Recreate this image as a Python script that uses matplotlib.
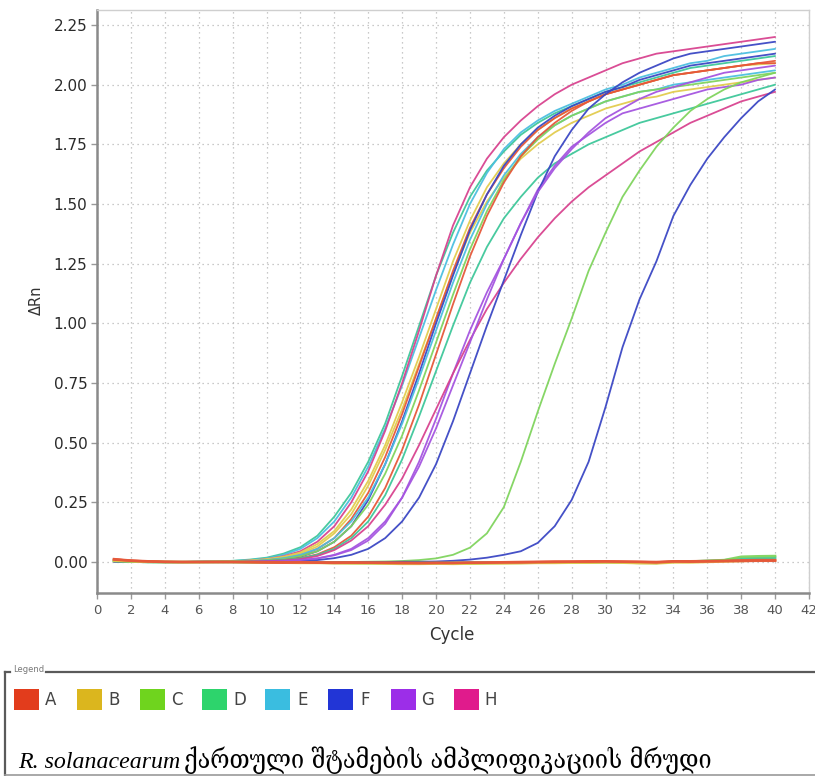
import matplotlib
matplotlib.use('Agg')
import matplotlib.pyplot as plt
from matplotlib.patches import Rectangle
from matplotlib.lines import Line2D

# ---------------- data ----------------
cycles = list(range(1, 41))
sample_labels = ['A', 'B', 'C', 'D', 'E', 'F', 'G', 'H']
legend_colors = ['#e23c1c', '#dbb61e', '#6fd41e', '#2dd46c', '#3abde0', '#2235d6', '#9c2ee8', '#e01b8c']
curve_colors = {'A': '#e6583a', 'B': '#e2cc4e', 'C': '#80d45e', 'D': '#3ec79a', 'E': '#4cbfe0',
                'F': '#3b47c4', 'G': '#a555e0', 'H': '#d8438f'}

D1 = [0.010, 0.004, 0.002, 0.001, 0.000, 0.001, 0.002, 0.005, 0.010, 0.018,
      0.035, 0.062, 0.11, 0.19, 0.29, 0.42, 0.58, 0.78, 0.99, 1.20,
      1.38, 1.53, 1.64, 1.72, 1.79, 1.84, 1.88, 1.91, 1.94, 1.97,
      1.99, 2.01, 2.03, 2.05, 2.07, 2.08, 2.09, 2.10, 2.11, 2.12]
E1 = [0.008, 0.003, 0.001, 0.000, 0.000, 0.001, 0.002, 0.004, 0.008, 0.015,
      0.030, 0.055, 0.10, 0.17, 0.27, 0.40, 0.56, 0.74, 0.94, 1.14,
      1.33, 1.50, 1.63, 1.73, 1.80, 1.85, 1.89, 1.92, 1.95, 1.98,
      2.00, 2.03, 2.05, 2.07, 2.09, 2.10, 2.12, 2.13, 2.14, 2.15]
H1 = [0.006, 0.002, 0.000, 0.000, 0.000, 0.001, 0.002, 0.003, 0.006, 0.012,
      0.024, 0.045, 0.085, 0.15, 0.25, 0.38, 0.55, 0.75, 0.97, 1.20,
      1.41, 1.57, 1.69, 1.78, 1.85, 1.91, 1.96, 2.00, 2.03, 2.06,
      2.09, 2.11, 2.13, 2.14, 2.15, 2.16, 2.17, 2.18, 2.19, 2.20]
B1 = [0.004, 0.002, 0.001, 0.000, 0.000, 0.000, 0.001, 0.003, 0.006, 0.012,
      0.022, 0.040, 0.075, 0.13, 0.22, 0.34, 0.49, 0.67, 0.86, 1.06,
      1.26, 1.43, 1.57, 1.67, 1.75, 1.81, 1.86, 1.90, 1.93, 1.96,
      1.98, 2.00, 2.02, 2.04, 2.05, 2.06, 2.07, 2.08, 2.085, 2.09]
B2 = [0.003, 0.001, 0.000, 0.000, 0.000, 0.000, 0.001, 0.002, 0.005, 0.010,
      0.019, 0.035, 0.065, 0.12, 0.20, 0.32, 0.47, 0.64, 0.83, 1.02,
      1.21, 1.38, 1.51, 1.61, 1.69, 1.75, 1.80, 1.84, 1.87, 1.90,
      1.92, 1.94, 1.95, 1.97, 1.98, 1.99, 2.00, 2.01, 2.02, 2.03]
A1 = [0.012, 0.006, 0.003, 0.001, 0.000, 0.000, 0.000, 0.001, 0.003, 0.007,
      0.014, 0.028, 0.055, 0.10, 0.18, 0.29, 0.44, 0.62, 0.82, 1.02,
      1.22, 1.40, 1.54, 1.65, 1.74, 1.81, 1.86, 1.90, 1.93, 1.96,
      1.98, 2.00, 2.02, 2.04, 2.05, 2.06, 2.07, 2.08, 2.09, 2.09]
F1 = [0.004, 0.002, 0.000, 0.000, 0.000, 0.000, 0.000, 0.001, 0.002, 0.005,
      0.011, 0.022, 0.045, 0.085, 0.15, 0.26, 0.41, 0.59, 0.79, 1.00,
      1.20, 1.39, 1.54, 1.66, 1.75, 1.82, 1.87, 1.91, 1.94, 1.97,
      1.99, 2.02, 2.04, 2.06, 2.08, 2.09, 2.10, 2.11, 2.12, 2.13]
E2 = [0.005, 0.002, 0.001, 0.000, 0.000, 0.000, 0.001, 0.002, 0.004, 0.008,
      0.016, 0.030, 0.055, 0.10, 0.17, 0.27, 0.41, 0.58, 0.77, 0.97,
      1.17, 1.35, 1.50, 1.62, 1.71, 1.78, 1.83, 1.87, 1.90, 1.93,
      1.95, 1.97, 1.98, 2.00, 2.01, 2.02, 2.03, 2.04, 2.05, 2.06]
C1 = [0.003, 0.001, 0.000, 0.000, 0.000, 0.000, 0.000, 0.001, 0.003, 0.006,
      0.012, 0.024, 0.045, 0.085, 0.15, 0.24, 0.37, 0.53, 0.72, 0.92,
      1.12, 1.31, 1.47, 1.60, 1.70, 1.77, 1.83, 1.87, 1.90, 1.93,
      1.95, 1.97, 1.98, 1.99, 2.00, 2.01, 2.02, 2.03, 2.04, 2.05]
A2 = [0.010, 0.005, 0.002, 0.000, 0.000, 0.000, 0.000, 0.000, 0.002, 0.004,
      0.008, 0.016, 0.032, 0.062, 0.11, 0.19, 0.31, 0.47, 0.66, 0.87,
      1.08, 1.28, 1.45, 1.59, 1.70, 1.78, 1.84, 1.89, 1.93, 1.96,
      1.98, 2.00, 2.02, 2.04, 2.05, 2.06, 2.07, 2.08, 2.09, 2.10]
D2 = [0.004, 0.002, 0.001, 0.000, 0.000, 0.000, 0.000, 0.001, 0.002, 0.004,
      0.008, 0.015, 0.030, 0.055, 0.10, 0.17, 0.28, 0.43, 0.61, 0.80,
      0.99, 1.17, 1.32, 1.44, 1.53, 1.61, 1.67, 1.71, 1.75, 1.78,
      1.81, 1.84, 1.86, 1.88, 1.90, 1.92, 1.94, 1.96, 1.98, 2.00]
G1 = [0.002, 0.001, 0.000, 0.000, 0.000, 0.000, 0.000, 0.000, 0.001, 0.002,
      0.004, 0.008, 0.015, 0.028, 0.050, 0.09, 0.16, 0.27, 0.42, 0.60,
      0.79, 0.97, 1.13, 1.27, 1.42, 1.56, 1.66, 1.74, 1.79, 1.84,
      1.88, 1.90, 1.92, 1.94, 1.96, 1.98, 1.99, 2.00, 2.02, 2.03]
H2 = [0.003, 0.001, 0.000, 0.000, 0.000, 0.000, 0.000, 0.000, 0.001, 0.003,
      0.006, 0.012, 0.025, 0.050, 0.09, 0.15, 0.24, 0.35, 0.49, 0.64,
      0.79, 0.93, 1.06, 1.17, 1.27, 1.36, 1.44, 1.51, 1.57, 1.62,
      1.67, 1.72, 1.76, 1.80, 1.84, 1.87, 1.90, 1.93, 1.95, 1.97]
F2 = [0.002, 0.000, 0.000, 0.000, 0.000, 0.000, 0.000, 0.000, 0.000, 0.001,
      0.002, 0.004, 0.008, 0.016, 0.030, 0.055, 0.10, 0.17, 0.27, 0.41,
      0.59, 0.79, 0.99, 1.18, 1.37, 1.55, 1.70, 1.81, 1.90, 1.96,
      2.01, 2.05, 2.08, 2.11, 2.13, 2.14, 2.15, 2.16, 2.17, 2.18]
G2 = [0.002, 0.000, 0.000, 0.000, 0.000, 0.000, 0.000, 0.000, 0.001, 0.002,
      0.004, 0.008, 0.015, 0.030, 0.055, 0.10, 0.17, 0.27, 0.40, 0.56,
      0.74, 0.92, 1.10, 1.27, 1.42, 1.55, 1.65, 1.73, 1.80, 1.86,
      1.90, 1.94, 1.97, 1.99, 2.01, 2.03, 2.05, 2.06, 2.07, 2.08]
C2 = [0.003, 0.001, 0.000, 0.000, 0.000, 0.000, 0.000, 0.000, 0.000, 0.000,
      0.000, 0.000, 0.000, 0.000, 0.000, 0.001, 0.002, 0.004, 0.008, 0.015,
      0.030, 0.060, 0.12, 0.23, 0.42, 0.63, 0.83, 1.02, 1.22, 1.38,
      1.53, 1.64, 1.74, 1.82, 1.89, 1.94, 1.98, 2.01, 2.03, 2.05]
F3 = [0.002, 0.000, 0.000, 0.000, 0.000, 0.000, 0.000, 0.000, 0.000, 0.000,
      0.000, 0.000, 0.000, 0.000, 0.000, 0.000, 0.000, 0.001, 0.001, 0.002,
      0.005, 0.010, 0.018, 0.030, 0.045, 0.080, 0.15, 0.26, 0.42, 0.65,
      0.90, 1.10, 1.26, 1.45, 1.58, 1.69, 1.78, 1.86, 1.93, 1.98]

A3 = [0.012, 0.006, 0.003, 0.001, 0.000, 0.000, 0.000, 0.000, -0.001, -0.002,
      -0.003, -0.002, -0.003, -0.004, -0.003, -0.003, -0.004, -0.005, -0.005, -0.004,
      -0.004, -0.003, -0.003, -0.002, -0.002, -0.001, 0.000, 0.001, 0.001, 0.002,
      0.001, 0.000, -0.002, 0.002, 0.001, 0.002, 0.003, 0.004, 0.005, 0.005]
B3 = [0.006, 0.003, 0.001, 0.000, -0.001, -0.001, 0.000, 0.000, -0.001, -0.002,
      -0.003, -0.004, -0.004, -0.005, -0.006, -0.006, -0.007, -0.008, -0.008, -0.007,
      -0.008, -0.007, -0.006, -0.006, -0.005, -0.004, -0.004, -0.003, -0.003, -0.002,
      -0.003, -0.005, -0.006, -0.002, -0.002, 0.000, 0.002, 0.004, 0.006, 0.007]
C3 = [0.004, 0.002, 0.000, 0.000, 0.000, 0.000, 0.000, 0.000, -0.001, -0.002,
      -0.002, -0.003, -0.003, -0.004, -0.004, -0.005, -0.005, -0.006, -0.006, -0.005,
      -0.006, -0.007, -0.005, -0.004, -0.004, -0.003, -0.003, -0.002, -0.002, -0.001,
      -0.002, -0.004, -0.004, 0.001, 0.002, 0.005, 0.008, 0.022, 0.024, 0.025]
D3 = [0.005, 0.002, 0.000, -0.001, -0.001, 0.000, 0.000, 0.000, -0.001, -0.001,
      -0.002, -0.003, -0.003, -0.003, -0.004, -0.004, -0.004, -0.005, -0.004, -0.004,
      -0.003, -0.002, -0.002, -0.003, -0.003, -0.002, -0.002, -0.001, -0.001, 0.000,
      -0.001, -0.002, -0.004, 0.001, 0.002, 0.004, 0.007, 0.015, 0.016, 0.018]
A4 = [0.010, 0.005, 0.002, 0.000, 0.000, 0.000, 0.000, 0.000, 0.000, -0.001,
      -0.001, -0.001, -0.002, -0.002, -0.002, -0.003, -0.003, -0.003, -0.004, -0.004,
      -0.004, -0.003, -0.002, -0.001, 0.000, 0.001, 0.002, 0.002, 0.003, 0.003,
      0.002, 0.001, 0.000, 0.003, 0.003, 0.004, 0.005, 0.007, 0.008, 0.008]

amplified = [('D', D1), ('E', E1), ('H', H1), ('B', B1), ('B', B2), ('A', A1), ('F', F1),
             ('E', E2), ('C', C1), ('A', A2), ('D', D2), ('G', G1), ('H', H2), ('F', F2),
             ('G', G2), ('C', C2), ('F', F3)]
flat = [('D', D3), ('C', C3), ('B', B3), ('A', A4), ('A', A3)]

x_ticks = list(range(0, 43, 2))
y_ticks = [0.00, 0.25, 0.50, 0.75, 1.00, 1.25, 1.50, 1.75, 2.00, 2.25]

caption_latin = 'R. solanacearum'
caption_georgian = 'ქართული შტამების ამპლიფიკაციის მრუდი'

# ---------------- figure ----------------
W, H = 815, 776
fig = plt.figure(figsize=(W / 100, H / 100), dpi=100)
fig.patch.set_facecolor('white')

ax = fig.add_axes([97 / W, 1 - 593 / H, (809 - 97) / W, (593 - 10) / H])
ax.set_xlim(0, 42)
ax.set_ylim(-0.13, 2.313)

for s, vals in amplified:
    ax.plot(cycles, vals, color=curve_colors[s], lw=1.3, alpha=0.95, solid_capstyle='round')
for s, vals in flat:
    ax.plot(cycles, vals, color=curve_colors[s], lw=1.8, alpha=0.95)

ax.set_xticks(x_ticks)
ax.set_yticks(y_ticks)
ax.set_yticklabels([f'{v:.2f}' for v in y_ticks])
ax.grid(True, linestyle=(0, (1, 3)), color='#b8b8b8', lw=0.9)
ax.set_axisbelow(True)

for side in ['left', 'bottom']:
    ax.spines[side].set_color('#8a8a8a')
    ax.spines[side].set_linewidth(1.8)
for side in ['top', 'right']:
    ax.spines[side].set_color('#cfcfcf')
    ax.spines[side].set_linewidth(1.0)

ax.tick_params(axis='both', direction='out', length=4, width=1, color='#999999')
ax.tick_params(axis='x', labelsize=9.5, labelcolor='#555555', pad=4)
ax.tick_params(axis='y', labelsize=11, labelcolor='#2a2a2a', pad=3)

fig.text(452 / W, 1 - 635 / H, 'Cycle', ha='center', va='center', fontsize=12, color='#333333')
fig.text(36 / W, 1 - 300 / H, 'ΔRn', ha='center', va='center', rotation=90, fontsize=10.5, color='#333333')

# ---------------- legend box ----------------
frame_col = '#5a5a5a'
tf = fig.transFigure
fig.add_artist(Line2D([5 / W, 10 / W], [1 - 672 / H, 1 - 672 / H], color=frame_col, lw=1.6, transform=tf))
fig.add_artist(Line2D([46 / W, 1.0], [1 - 672 / H, 1 - 672 / H], color=frame_col, lw=1.6, transform=tf))
fig.add_artist(Line2D([5 / W, 5 / W], [1 - 672 / H, 0.0], color=frame_col, lw=1.6, transform=tf))
fig.add_artist(Line2D([5 / W, 1.0], [1 - 775 / H, 1 - 775 / H], color='#9a9a9a', lw=1.2, transform=tf))
fig.text(13 / W, 1 - 670 / H, 'Legend', fontsize=6, color='#777777', ha='left', va='center')

for i, (lab, col) in enumerate(zip(sample_labels, legend_colors)):
    x0 = 14 + i * 62.8
    fig.add_artist(Rectangle((x0 / W, 1 - 710 / H), 25 / W, 21 / H, facecolor=col,
                             edgecolor='none', transform=tf))
    fig.text((x0 + 37) / W, 1 - 700 / H, lab, fontsize=12, color='#444444', ha='center', va='center')

# ---------------- caption ----------------
fig.canvas.draw()
r = fig.canvas.get_renderer()
t1 = fig.text(18 / W, 1 - 768 / H, caption_latin, family=['Liberation Serif', 'DejaVu Serif'],
              style='italic', fontsize=19, va='baseline', ha='left', color='black')
bb1 = t1.get_window_extent(r)
t1.set_fontsize(19 * (180 - 18) / max(bb1.width, 1))
bb1 = t1.get_window_extent(r)
t2 = fig.text((bb1.x1 + 4) / W, 1 - 768 / H, caption_georgian,
              family=['DejaVu Serif', 'DejaVu Sans'], fontstretch='condensed',
              fontsize=16, va='baseline', ha='left', color='black')
bb2 = t2.get_window_extent(r)
t2.set_fontsize(16 * (713 - bb1.x1 - 4) / max(bb2.width, 1))

fig.savefig('out.png', dpi=100, facecolor='white')
